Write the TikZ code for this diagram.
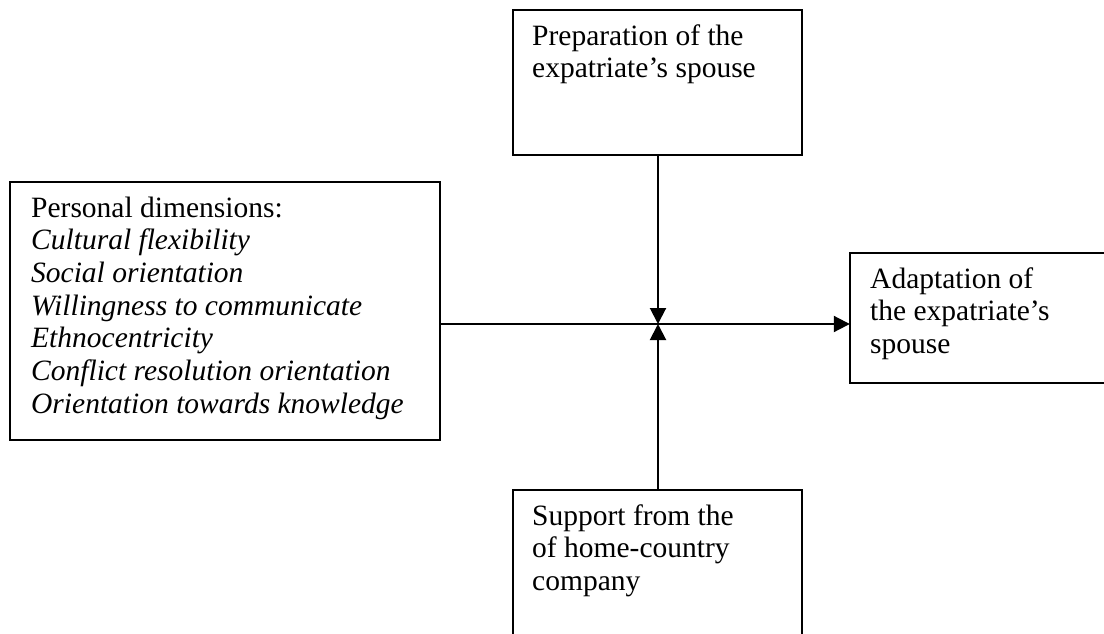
\documentclass[tikz,border=0pt]{standalone}
\usepackage{fontspec}
\setmainfont{Liberation Serif}
\usetikzlibrary{arrows.meta}
\begin{document}
\begin{tikzpicture}[x=1pt,y=-1pt,
  box/.style={draw=black,line width=2pt,rectangle},
  txt/.style={anchor=base west,align=left,inner sep=0pt,font=\fontsize{29.5}{32.7}\selectfont},
  pt/.style={inner sep=0pt,minimum size=0pt},
  conn/.style={line width=2pt,-{Triangle[length=16pt,width=16pt]}}]
\useasboundingbox (0,0) rectangle (1104,633);
\clip (0,0) rectangle (1104,633);
\fill[white] (0,0) rectangle (1104,633);
% boxes
\draw[box] (513,10) rectangle (802,155);
\draw[box] (10,182) rectangle (440,440);
\draw[box] (850,253) rectangle (1130,383);
\draw[box] (513,490) rectangle (802,660);
\node[pt] (topb) at (658,155) {};
\node[pt] (botb) at (658,490) {};
\node[pt] (leftb) at (440,324) {};
\node[pt] (rightb) at (850,324) {};
\coordinate (c) at (658,324);
% texts (base anchor = last line)
\node[txt] (t1) at (532,77.7) {Preparation of the\\expatriate’s spouse};
\node[txt] (t2) at (31,413.2) {Personal dimensions:\\\textit{Cultural flexibility}\\\textit{Social orientation}\\\textit{Willingness to communicate}\\\textit{Ethnocentricity}\\\textit{Conflict resolution orientation}\\\textit{Orientation towards knowledge}};
\node[txt] (t3) at (870,353.4) {Adaptation of\\the expatriate’s\\spouse};
\node[txt] (t4) at (532,590.4) {Support from the\\of home-country\\company};
% connectors
\draw[conn] (topb) -- (c);
\draw[conn] (botb) -- (c);
\draw[conn] (leftb) -- (rightb);
\end{tikzpicture}
\end{document}
